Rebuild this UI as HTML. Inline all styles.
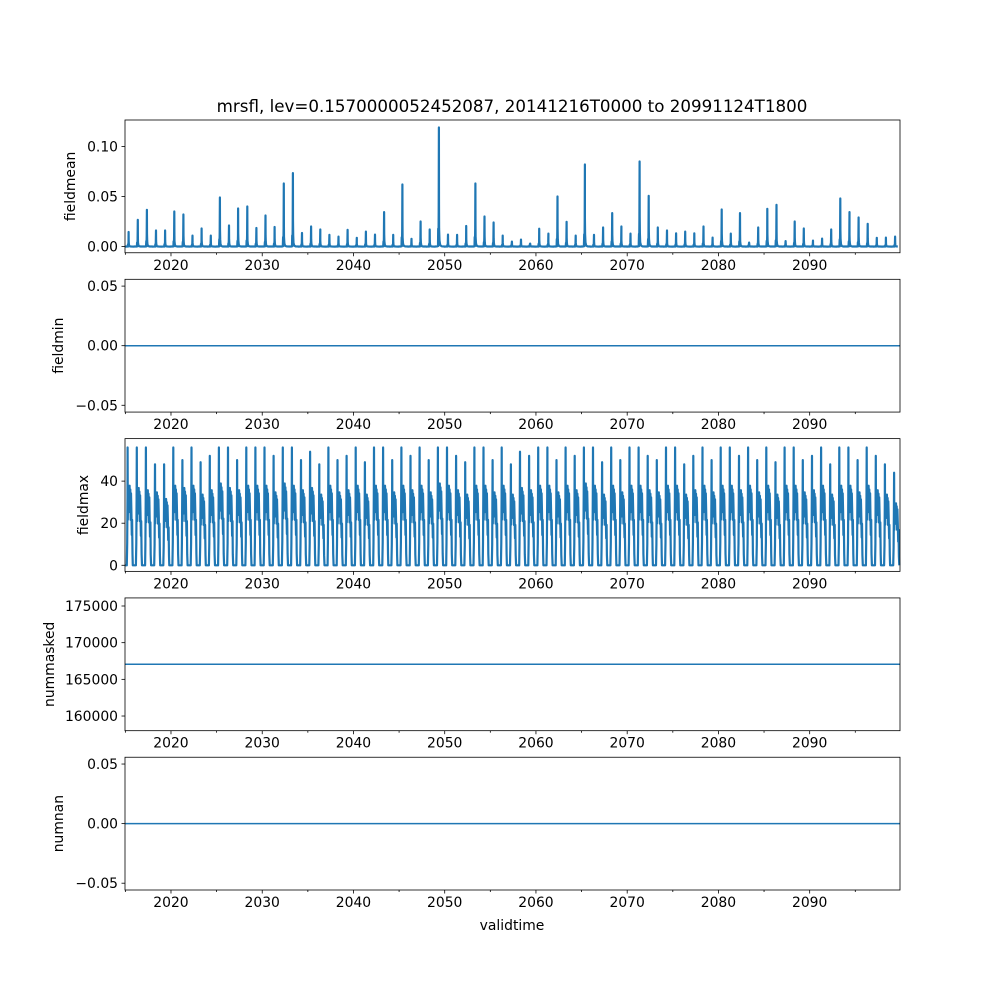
<!DOCTYPE html>
<html><head><meta charset="utf-8"><style>
body{margin:0;background:#fff}
svg text{font-family:"DejaVu Sans","Liberation Sans",sans-serif;font-size:13.9px;fill:#000}
</style></head><body>
<svg id="fig" width="1000" height="1000" viewBox="0 0 1000 1000" xmlns="http://www.w3.org/2000/svg">
<rect width="1000" height="1000" fill="#fff"/>
<text x="512" y="112" text-anchor="middle" style="font-size:16.7px">mrsfl, lev=0.1570000052452087, 20141216T0000 to 20991124T1800</text>
<text x="512" y="930" text-anchor="middle">validtime</text>
</svg>
<script>
const years = [];
for (let y = 2015; y <= 2099; y++) years.push(y);
const meanPeaks = [0.0146,0.0266,0.0367,0.016,0.016,0.035,0.032,0.011,0.018,0.011,
0.049,0.021,0.038,0.040,0.0185,0.031,0.0195,0.063,0.0734,0.0136,
0.020,0.017,0.0117,0.010,0.0166,0.0088,0.015,0.012,0.0344,0.0117,
0.062,0.0078,0.025,0.017,0.119,0.012,0.0117,0.0205,0.063,0.030,
0.024,0.011,0.005,0.007,0.003,0.0178,0.013,0.050,0.0247,0.011,
0.082,0.0117,0.019,0.0334,0.020,0.013,0.085,0.0506,0.019,0.016,
0.0133,0.015,0.0133,0.020,0.009,0.037,0.013,0.0334,0.004,0.019,
0.0377,0.0416,0.0055,0.025,0.018,0.006,0.008,0.017,0.048,0.0344,
0.029,0.0227,0.0088,0.009,0.010];
const maxPeaks = [56,56,56,48,48,56,50,56,49,52,56,56,50,56,56,56,52,56,56,50,
54,48,56,50,52,56,49,56,56,50,56,52,56,50,56,56,52,49,56,56,
50,56,48,54,52,56,56,50,56,52,56,56,49,56,50,56,56,52,50,56,
56,48,52,56,50,56,56,52,56,50,56,49,56,56,50,52,56,48,56,56,
50,56,52,48,44];
const maxPlateau = [36,35,34,33,30,36,35,36,32,34,37,35,34,36,36,36,33,37,36,34,
35,32,36,33,34,36,32,36,36,33,36,34,36,33,37,36,34,32,36,36,
33,36,32,35,34,36,36,33,36,34,37,36,32,36,33,36,36,34,33,36,
36,32,34,36,33,36,36,34,36,33,36,32,36,36,33,34,36,32,36,36,
33,36,34,32,28];
const meanShapeT = [0,0.2,0.3,0.33,0.34,0.36,0.38,0.40,0.41,0.43,0.47,0.55,0.7,1];
const meanShapeV = [0.0004,0.001,0.004,0.15,0.005,0.01,0.3,1,0.35,0.15,0.05,0.012,0.002,0.0004];
const maxShapeT = [0,0.2,0.24,0.27,0.29,0.31,0.33,0.36,0.39,0.42,0.46,0.5,0.54,0.58,0.62,0.66,0.7,0.74,0.78,0.82,0.86,1];
const maxShapeV = [0,0,0.3,0.9,1,0.6,0.9,1.05,0.7,1.0,0.9,1.05,0.75,1.0,0.6,0.95,0.7,0.4,0.6,0.15,0,0];
const fieldminValue = 0, nummaskedValue = 167050, numnanValue = 0;

const NS = "http://www.w3.org/2000/svg";
const svg = document.getElementById('fig');
const L = 125, R = 900, X0 = 2014.96, X1 = 2099.9;
const xs = t => L + (t - X0) / (X1 - X0) * (R - L);
const panels = [
 {name:'fieldmean', lo:-0.0062, hi:0.1265, ticks:[0,0.05,0.10], lab:['0.00','0.05','0.10']},
 {name:'fieldmin', lo:-0.0557, hi:0.0557, ticks:[-0.05,0,0.05], lab:['−0.05','0.00','0.05']},
 {name:'fieldmax', lo:-2.9, hi:60.2, ticks:[0,20,40], lab:['0','20','40']},
 {name:'nummasked', lo:158000, hi:176100, ticks:[160000,165000,170000,175000], lab:['160000','165000','170000','175000']},
 {name:'numnan', lo:-0.0557, hi:0.0557, ticks:[-0.05,0,0.05], lab:['−0.05','0.00','0.05']}
];
function mk(tag, attrs, parent){const e=document.createElementNS(NS,tag);for(const k in attrs)e.setAttribute(k,attrs[k]);(parent||svg).appendChild(e);return e;}
panels.forEach((p,i)=>{
  const top = 120 + i*159.31, H = 132.76, bot = top + H;
  const ys = v => bot - (v - p.lo)/(p.hi - p.lo)*H;
  const g = mk('g',{});
  
  
  let pts = [];
  if (i===0) {
    years.forEach((y,k)=>{meanShapeT.forEach((t,j)=>{pts.push([y-1+0.96+t, meanShapeV[j]*(j===7?meanPeaks[k]:Math.max(meanPeaks[k],0.008))]);});});
  } else if (i===2) {
    years.forEach((y,k)=>{maxShapeT.forEach((t,j)=>{pts.push([y-1+0.96+t, j===4?maxPeaks[k]:maxShapeV[j]*maxPlateau[k]]);});});
  } else {
    const v = i===3?nummaskedValue:(i===1?fieldminValue:numnanValue);
    pts = [[X0,v],[X1,v]];
  }
  pts = pts.filter(q=>q[0]>=X0-0.01 && q[0]<=X1+0.01);
  const line = mk('polyline',{points:pts.map(q=>xs(q[0]).toFixed(1)+','+ys(q[1]).toFixed(1)).join(' '),fill:'none',stroke:'#1f77b4','stroke-width':i===0||i===2?2.2:1.5,'stroke-linejoin':'round'},g);
  
  
  mk('rect',{x:L,y:top,width:R-L,height:H,fill:'none',stroke:'#000','stroke-width':0.8},g);
  p.ticks.forEach((v,j)=>{
    const y = ys(v);
    mk('line',{x1:L-3.5,x2:L,y1:y,y2:y,stroke:'#000','stroke-width':0.8},g);
    const t = mk('text',{x:L-7,y:y+5,'text-anchor':'end'},g); t.textContent=p.lab[j];
    
    
  });
  for (let yr=2015; yr<=2095; yr+=5){
    const x = xs(yr), major = yr%10===0;
    mk('line',{x1:x,x2:x,y1:bot,y2:bot+(major?3.5:2),stroke:'#000','stroke-width':0.8},g);
    if (major){const t=mk('text',{x:x,y:bot+17,'text-anchor':'middle'},g);t.textContent=yr;
      
      }
  }
  const yl = {fieldmean:75,fieldmin:63,fieldmax:88,nummasked:54,numnan:63}[p.name];
  const lt = mk('text',{x:yl,y:top+H/2,'text-anchor':'middle',transform:`rotate(-90 ${yl} ${top+H/2})`},g);
  lt.textContent = p.name;
  
  
});
</script>
</body></html>
